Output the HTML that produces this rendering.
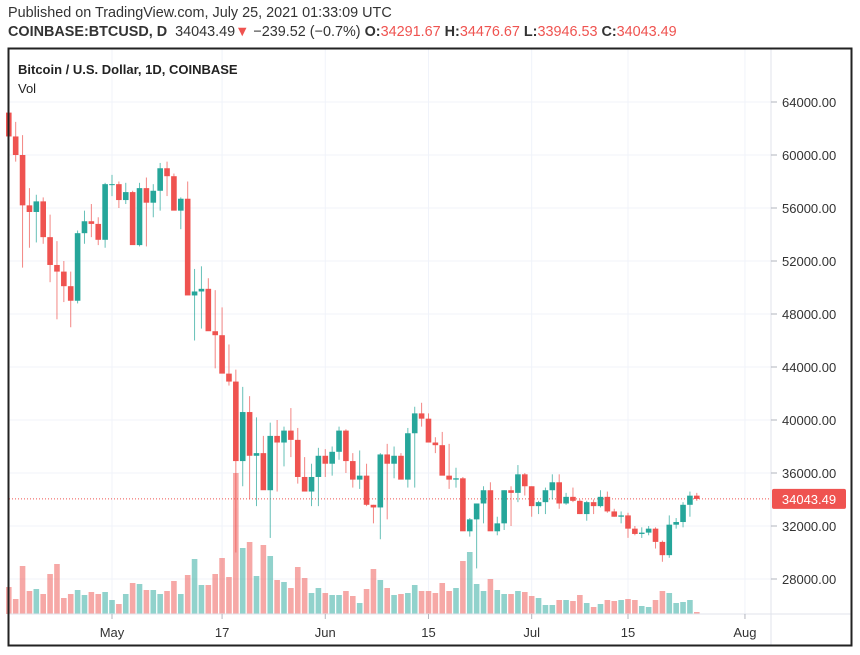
<!DOCTYPE html>
<html><head><meta charset="utf-8"><style>
body{margin:0;background:#fff;width:860px;height:655px;overflow:hidden;font-family:"Liberation Sans",sans-serif}
#hdr1{position:absolute;left:8px;top:5px;font-size:14.4px;color:#333}
#hdr2{position:absolute;left:8px;top:24px;font-size:14.4px;color:#333}
</style></head><body>
<div id="hdr1">Published on TradingView.com, July 25, 2021 01:33:09 UTC</div>
<div id="hdr2"><b>COINBASE:BTCUSD, D</b>&nbsp; 34043.49<span style="color:#ef5350">▼</span> −239.52 (−0.7%) <b>O:</b><span style="color:#ef5350">34291.67</span> <b>H:</b><span style="color:#ef5350">34476.67</span> <b>L:</b><span style="color:#ef5350">33946.53</span> <b>C:</b><span style="color:#ef5350">34043.49</span></div>
<svg id="chart" width="860" height="655" style="position:absolute;left:0;top:0"></svg>
<script>
const opens=[63200,61400,60000,56200,55700,56500,53800,51700,51200,50100,49000,54100,55000,54800,53600,57800,57800,56600,57200,53200,57500,56400,57300,59000,58400,55800,56700,49400,49700,49900,46700,46400,43500,42900,36900,40600,37300,37500,34700,38800,38300,39200,38500,35700,34600,35700,37300,36700,37600,39200,36900,35500,35800,33600,33400,37400,36700,37300,35500,39000,40500,40100,38300,38100,35800,35500,35600,31600,32500,33700,34700,31600,32200,34700,34500,35900,35000,33500,33800,34700,35300,33700,34200,33900,32900,33800,33500,34200,33100,32700,32800,31800,31400,31500,31800,30800,29800,32100,32300,33600,34290];
const highs=[64300,62500,61500,57500,57000,56800,55500,53500,52000,51200,54300,55800,56300,55300,57900,58500,58000,57900,57300,57900,58300,57800,59400,59500,58600,56800,58000,51400,51600,50700,49800,48500,45700,43800,42500,41800,40200,38800,39800,40000,39500,40900,39400,37200,36700,37900,37800,38000,39500,39300,37500,37700,36700,33600,37500,38200,38000,37500,39400,41000,41300,40500,38700,39100,38200,36400,35700,32600,33300,35000,35300,32700,34700,35000,36600,36000,35000,33900,34900,35900,35900,34500,34900,34000,33900,34000,34700,34600,33300,33100,33000,32000,31900,32000,31900,30900,32800,32600,33800,34600,34500];
const lows=[62000,59500,51500,53000,53400,53300,50400,47600,48900,47000,48800,53300,53800,53200,53000,56900,56000,56300,56400,53100,53100,55300,55800,56900,56100,54400,53500,46000,46900,48500,43900,44000,42600,30000,35000,34000,33500,35200,31100,34600,36500,37200,35200,34700,33500,33500,35700,35800,37000,36000,34900,34800,33500,32200,31000,32500,35600,36300,34900,34900,39500,38300,37500,37400,34800,34900,33300,31200,28800,32200,32800,31300,31700,32000,33800,34300,32700,32900,32900,34000,33300,33600,33800,32900,32400,32900,33400,33000,32700,32200,31100,31300,31100,31300,30300,29300,29600,31800,31900,32700,33900];
const closes=[61400,60000,56200,55700,56500,53800,51700,51200,50100,49000,54100,55000,54800,53600,57800,57800,56600,57200,53200,57500,56400,57300,59000,58400,55800,56700,49400,49700,49900,46700,46400,43500,42900,36900,40600,37300,37500,34700,38800,38300,39200,38500,35700,34600,35700,37300,36700,37600,39200,36900,35500,35800,33600,33400,37400,36700,37300,35500,39000,40500,40100,38300,38100,35800,35500,35600,31600,32500,33700,34700,31600,32200,34700,34500,35900,35000,33500,33800,34700,35300,33700,34200,33900,32900,33800,33500,34200,33100,32700,32800,31800,31400,31500,31800,30800,29800,32100,32300,33600,34290,34043];
const volumes=[27,15,48,23,25,20,40,50,16,20,24,19,22,20,22,14,10,20,31,30,24,24,20,23,33,20,39,55,29,29,40,56,37,141,66,72,38,69,58,34,32,26,47,36,21,26,21,19,19,23,18,11,25,45,34,26,19,20,21,29,23,23,21,31,23,26,53,62,30,23,35,24,20,20,23,22,18,16,9,9,14,14,13,19,11,7,10,14,13,14,15,14,8,7,14,23,21,11,12,14,2];
const priceTicks=[28000,32000,36000,40000,44000,48000,52000,56000,60000,64000];
const timeLabels=["May","17","Jun","15","Jul","15","Aug"];
const timeDays=[15,31,46,61,76,90,107];
const lastPrice=34043.49;

const NS="http://www.w3.org/2000/svg";
const svg=document.getElementById('chart');
function mk(tag,attrs,parent){const e=document.createElementNS(NS,tag);for(const k in attrs)e.setAttribute(k,attrs[k]);(parent||svg).appendChild(e);return e;}
const yP=p=>102+(64000-p)*0.01325;
const xD=i=>8.8+i*6.88;
const yV=v=>614-v;
const UP="#26a69a",DN="#ef5350";

const grid=mk('g',{});


priceTicks.forEach(p=>{const l=mk('line',{x1:9,x2:771,y1:yP(p),y2:yP(p),stroke:'#f0f3fa','stroke-width':1},grid);

});
timeDays.forEach(d=>{const l=mk('line',{x1:xD(d),x2:xD(d),y1:49,y2:614,stroke:'#f0f3fa','stroke-width':1},grid);

});

const vg=mk('g',{opacity:0.5});


volumes.forEach((v,i)=>{const up=closes[i]>=opens[i];
const r=mk('rect',{x:xD(i)-2.8,y:yV(v),width:5.6,height:v,fill:up?UP:DN},vg);

});

const lp=mk('line',{x1:9,x2:771,y1:yP(lastPrice),y2:yP(lastPrice),stroke:DN,'stroke-width':1,'stroke-dasharray':'1 2'});



const cg=mk('g',{});


opens.forEach((o,i)=>{const c=closes[i],up=c>=o,col=up?UP:DN,x=xD(i);
const g=mk('g',{},cg);


mk('line',{x1:x,x2:x,y1:yP(highs[i]),y2:yP(lows[i]),stroke:col,'stroke-width':1,opacity:0.7},g);
const t=yP(Math.max(o,c)),b=yP(Math.min(o,c));
mk('rect',{x:x-2.8,y:t,width:5.6,height:Math.max(1,b-t),fill:col},g);});

const sep=mk('line',{x1:771,x2:771,y1:49,y2:646,stroke:'#e0e3eb'});


const sep2=mk('line',{x1:9,x2:851,y1:614,y2:614,stroke:'#e0e3eb'});


priceTicks.forEach(p=>{
const tk=mk('line',{x1:771,x2:777,y1:yP(p),y2:yP(p),stroke:'#b2b5be'});


const t=mk('text',{x:782,y:yP(p)+5,'font-size':13,fill:'#333','font-family':'Liberation Sans'});
t.textContent=p.toFixed(2);

});
timeDays.forEach((d,i)=>{
const tk=mk('line',{x1:xD(d),x2:xD(d),y1:614,y2:619,stroke:'#b2b5be'});


const t=mk('text',{x:xD(d),y:637,'font-size':13,fill:'#333','text-anchor':'middle','font-family':'Liberation Sans'});
t.textContent=timeLabels[i];

});

const lbg=mk('g',{});


mk('rect',{x:772,y:yP(lastPrice)-10,width:74,height:20,rx:2,fill:DN},lbg);
const lt=mk('text',{x:809,y:yP(lastPrice)+5,'font-size':13,fill:'#fff','text-anchor':'middle','font-family':'Liberation Sans'},lbg);
lt.textContent=lastPrice.toFixed(2);

const fr=mk('rect',{x:8.5,y:48.5,width:843,height:597,fill:'none',stroke:'#222','stroke-width':2});


const t1=mk('text',{x:18,y:74,'font-size':13,'font-weight':'bold',fill:'#222','font-family':'Liberation Sans'});
t1.textContent='Bitcoin / U.S. Dollar, 1D, COINBASE';


const t2=mk('text',{x:18,y:93,'font-size':13,fill:'#222','font-family':'Liberation Sans'});
t2.textContent='Vol';


</script>
</body></html>
